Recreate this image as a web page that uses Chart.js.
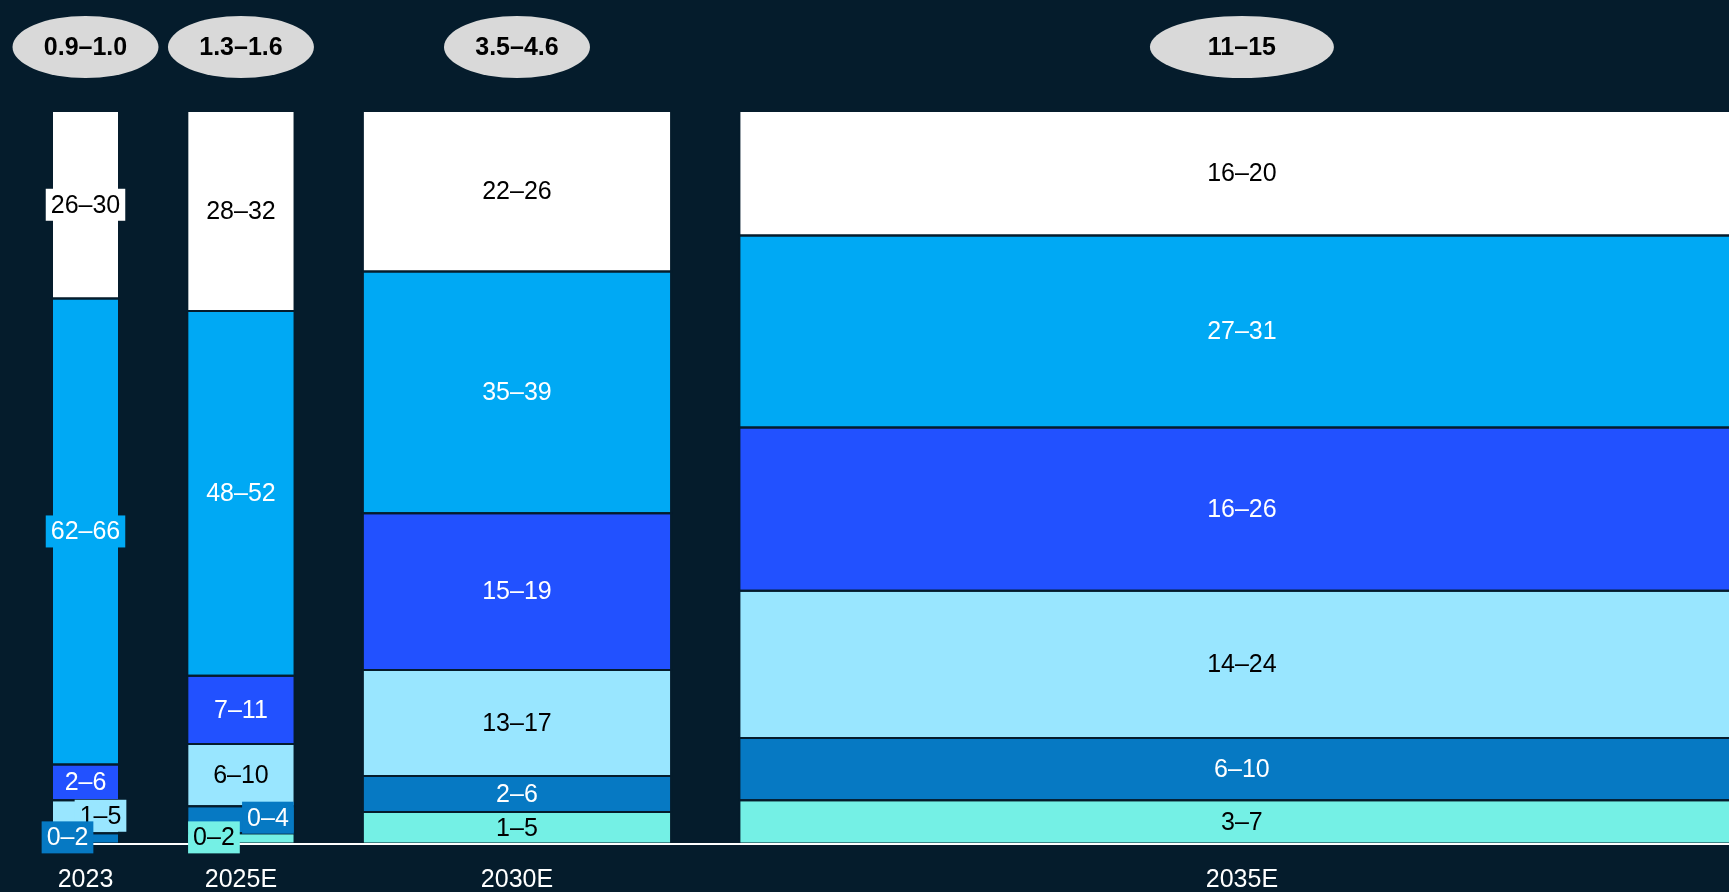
<!DOCTYPE html>
<html>
<head>
<meta charset="utf-8">
<script src="https://cdn.jsdelivr.net/npm/chart.js@4.4.1/dist/chart.umd.min.js"></script>
<style>
  html, body { margin: 0; padding: 0; background: #051c2c; }
  #wrap { width: 1729px; height: 892px; position: relative; }
</style>
</head>
<body>
<div id="wrap"><canvas id="chart"></canvas></div>
<script>
// years and market size (bubbles on top); column width = upper end of market size
const years = ['2023', '2025E', '2030E', '2035E'];
const marketSize = ['0.9–1.0', '1.3–1.6', '3.5–4.6', '11–15'];
const marketSizeMax = [1.0, 1.6, 4.6, 15];

// share of each column in %, bands from bottom to top
const tealShare  = [0, 1.4, 4.3, 5.9];
const darkShare  = [1.4, 3.7, 4.9, 8.5];
const lightShare = [4.5, 8.5, 14.5, 20.1];
const royalShare = [4.9, 9.3, 21.4, 22.3];
const skyShare   = [63.6, 49.8, 33.0, 26.2];
const whiteShare = [25.6, 27.3, 21.9, 17.0];

// range labels printed in each segment
const tealLabel  = ['', '0–2', '1–5', '3–7'];
const darkLabel  = ['0–2', '0–4', '2–6', '6–10'];
const lightLabel = ['1–5', '6–10', '13–17', '14–24'];
const royalLabel = ['2–6', '7–11', '15–19', '16–26'];
const skyLabel   = ['62–66', '48–52', '35–39', '27–31'];
const whiteLabel = ['26–30', '28–32', '22–26', '16–20'];

const navy = '#051c2c';
const colGap = 1.02;

const bands = [
  {share: tealShare,  label: tealLabel,  color: '#74f0e5', text: '#000000'},
  {share: darkShare,  label: darkLabel,  color: '#0679c3', text: '#ffffff'},
  {share: lightShare, label: lightLabel, color: '#99e6ff', text: '#000000'},
  {share: royalShare, label: royalLabel, color: '#2251ff', text: '#ffffff'},
  {share: skyShare,   label: skyLabel,   color: '#00a9f4', text: '#ffffff'},
  {share: whiteShare, label: whiteLabel, color: '#ffffff', text: '#000000'}
];

// small labels moved aside (column,band) -> pixel shift
const labelShift = {'0,2': [15, -1], '0,1': [-18, -1], '1,1': [27, -2], '1,0': [-27, -1]};

let colStart = [];
let pos = 0;
for (let i = 0; i < years.length; i++) {
  colStart.push(pos);
  pos += marketSizeMax[i] + colGap;
}
const colCenter = colStart.map((s, i) => s + marketSizeMax[i] / 2);

let datasets = [];
let segLabels = [];
let base = [0, 0, 0, 0];
bands.forEach(function(b, j) {
  for (let i = 0; i < years.length; i++) {
    let v = b.share[i];
    if (v > 0) {
      let x0 = colStart[i], x1 = colStart[i] + marketSizeMax[i];
      let y0 = base[i], y1 = base[i] + v;
      datasets.push({
        data: [{x: x0, y: y0}, {x: x1, y: y0}, {x: x1, y: y1}, {x: x0, y: y1}, {x: x0, y: y0}],
        backgroundColor: b.color,
        borderColor: navy,
        borderWidth: 2,
        fill: 'shape',
        pointRadius: 0,
        pointHoverRadius: 0
      });
      let sh = labelShift[i + ',' + j];
      segLabels.push({x0: x0, x1: x1, y: (y0 + y1) / 2, text: b.label[i], bg: b.color, fg: b.text,
        dx: sh ? sh[0] : 0, dy: sh ? sh[1] : 0, boxed: !!sh});
    }
    base[i] += v;
  }
});

const labelPlugin = {
  id: 'segLabels',
  afterDraw(chart) {
    const ctx = chart.ctx, xs = chart.scales.x, ys = chart.scales.y;
    ctx.save();
    ctx.font = '25px "Liberation Sans", Arial, sans-serif';
    ctx.textAlign = 'center';
    ctx.textBaseline = 'middle';
    for (let k = segLabels.length - 1; k >= 0; k--) {
      let l = segLabels[k];
      let left = xs.getPixelForValue(l.x0), right = xs.getPixelForValue(l.x1);
      let px = (left + right) / 2 + l.dx;
      let py = ys.getPixelForValue(l.y) + l.dy;
      let w = ctx.measureText(l.text).width;
      if (l.boxed || w > right - left - 4) {
        ctx.fillStyle = l.bg;
        ctx.fillRect(px - w / 2 - 5, py - 16, w + 10, 32);
      }
      ctx.fillStyle = l.fg;
      ctx.fillText(l.text, px, py + 1);
    }
    // market size bubbles
    const rx = [73, 73, 73, 92];
    ctx.font = 'bold 25px "Liberation Sans", Arial, sans-serif';
    marketSize.forEach(function(t, i) {
      let cx = xs.getPixelForValue(colCenter[i]);
      ctx.fillStyle = '#d9d9d9';
      ctx.beginPath();
      ctx.ellipse(cx, 47, rx[i], 31, 0, 0, Math.PI * 2);
      ctx.fill();
      ctx.fillStyle = '#000000';
      ctx.fillText(t, cx, 48);
    });
    ctx.restore();
  }
};

Chart.defaults.font.family = '"Liberation Sans", Arial, sans-serif';

new Chart(document.getElementById('chart'), {
  type: 'line',
  data: {datasets: datasets},
  options: {
    responsive: true,
    maintainAspectRatio: false,
    animation: false,
    events: [],
    layout: {padding: {top: 111, left: 52, right: 0, bottom: 0}},
    plugins: {
      legend: {display: false},
      tooltip: {enabled: false},
      filler: {drawTime: 'beforeDatasetsDraw'}
    },
    scales: {
      x: {
        type: 'linear',
        min: 0,
        max: 25.03,
        grid: {display: false},
        border: {display: true, color: '#ffffff', width: 2, z: 1},
        afterBuildTicks: function(scale) {
          scale.ticks = colCenter.map(v => ({value: v}));
        },
        afterFit: function(scale) { scale.height = 48.5; },
        ticks: {
          autoSkip: false,
          maxRotation: 0,
          color: '#ffffff',
          font: {size: 25},
          padding: 14,
          callback: function(value, index) { return years[index]; }
        }
      },
      y: {
        display: false,
        min: 0,
        max: 100
      }
    }
  },
  plugins: [labelPlugin]
});
</script>
</body>
</html>
